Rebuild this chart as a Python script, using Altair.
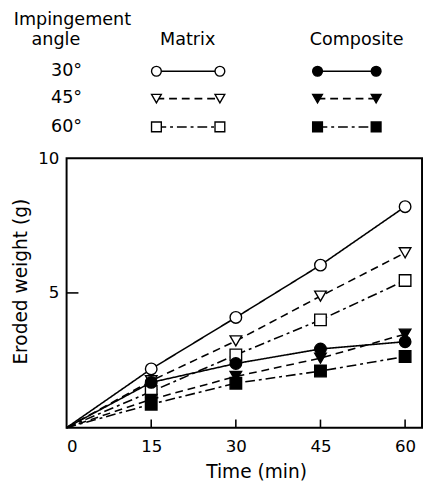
import altair as alt
import pandas as pd

# ---- data ----
times = [0, 15, 30, 45, 60]
angles = ["30°", "45°", "60°"]
materials = ["Matrix", "Composite"]
matrix_30 = [0, 2.18, 4.09, 6.03, 8.20]
matrix_45 = [0, 1.74, 3.22, 4.88, 6.49]
matrix_60 = [0, 1.34, 2.70, 4.00, 5.46]
comp_30 = [0, 1.68, 2.38, 2.92, 3.19]
comp_45 = [0, 1.05, 1.90, 2.58, 3.47]
comp_60 = [0, 0.87, 1.65, 2.10, 2.64]
x_ticks = [0, 15, 30, 45, 60]
y_ticks = [5, 10]

series = {
    ("Matrix", "30°"): matrix_30,
    ("Matrix", "45°"): matrix_45,
    ("Matrix", "60°"): matrix_60,
    ("Composite", "30°"): comp_30,
    ("Composite", "45°"): comp_45,
    ("Composite", "60°"): comp_60,
}
rows = []
for (mat, ang), vals in series.items():
    for t, v in zip(times, vals):
        rows.append({"time": t, "weight": v, "material": mat, "angle": ang,
                     "series": mat + ang})
df = pd.DataFrame(rows)

FONT = "DejaVu Sans"
dash_scale = alt.Scale(domain=angles, range=[[1, 0], [8, 5], [10, 4, 3, 4]])
shape_scale = alt.Scale(domain=angles, range=["circle", "triangle-down", "square"])
fill_scale = alt.Scale(domain=materials, range=["white", "black"])

W, H = 364, 276
xs = alt.Scale(domain=[0, 63], nice=False)
ys = alt.Scale(domain=[0, 10], nice=False)

lines = alt.Chart(df).mark_line(color="black", strokeWidth=1.6).encode(
    x=alt.X("time:Q", scale=xs,
            axis=alt.Axis(values=x_ticks, title="Time (min)", tickSize=0,
                          domain=False, grid=False, labelPadding=11,
                          titlePadding=9, titleX=194)),
    y=alt.Y("weight:Q", scale=ys,
            axis=alt.Axis(values=y_ticks, title="Eroded weight (g)", tickSize=0,
                          domain=False, grid=False, labelPadding=8,
                          titleX=-37, titleY=126)),
    strokeDash=alt.StrokeDash("angle:N", scale=dash_scale, legend=None),
    detail="series:N",
)

points = alt.Chart(df).transform_filter("datum.time > 0").mark_point(
    filled=True, stroke="black", strokeWidth=1.4, size=140, opacity=1
).encode(
    x=alt.X("time:Q", scale=xs),
    y=alt.Y("weight:Q", scale=ys),
    shape=alt.Shape("angle:N", scale=shape_scale, legend=None),
    fill=alt.Fill("material:N", scale=fill_scale, legend=None),
)

xtick_df = pd.DataFrame({"t": x_ticks[1:]})
xtick_rules = alt.Chart(xtick_df).mark_rule(color="black", strokeWidth=1.6).encode(
    x=alt.X("t:Q", scale=xs),
    y=alt.datum(0),
    y2=alt.datum(0.3),
)
ytick_df = pd.DataFrame({"v": y_ticks[:1]})
ytick_rules = alt.Chart(ytick_df).mark_rule(color="black", strokeWidth=1.6).encode(
    y=alt.Y("v:Q", scale=ys),
    x=alt.datum(0),
    x2=alt.datum(2.1),
)

main = alt.layer(lines, xtick_rules, ytick_rules, points).properties(
    width=W, height=H,
    view=alt.ViewBackground(stroke="black", strokeWidth=2),
)

# ---- legend block (layout constants, in px relative to plot's left edge) ----
LW, LH = 364, 140
col_x = {"Matrix": (92, 157), "Composite": (257, 317)}
row_y = {"30°": 62, "45°": 90, "60°": 119}
label_x = 0

leg_rows = []
for mat in materials:
    for ang in angles:
        for i, lx in enumerate(col_x[mat]):
            leg_rows.append({"lx": lx, "ly": row_y[ang], "material": mat,
                             "angle": ang, "series": mat + ang})
leg_df = pd.DataFrame(leg_rows)

lxs = alt.Scale(domain=[0, LW], nice=False)
lys = alt.Scale(domain=[0, LH], nice=False, reverse=True)

leg_lines = alt.Chart(leg_df).mark_line(color="black", strokeWidth=1.6).encode(
    x=alt.X("lx:Q", scale=lxs, axis=None),
    y=alt.Y("ly:Q", scale=lys, axis=None),
    strokeDash=alt.StrokeDash("angle:N", scale=dash_scale, legend=None),
    detail="series:N",
)
leg_points = alt.Chart(leg_df).mark_point(
    filled=True, stroke="black", strokeWidth=1.4, size=100, opacity=1
).encode(
    x=alt.X("lx:Q", scale=lxs),
    y=alt.Y("ly:Q", scale=lys),
    shape=alt.Shape("angle:N", scale=shape_scale, legend=None),
    fill=alt.Fill("material:N", scale=fill_scale, legend=None),
)

head_df = pd.DataFrame({
    "text": ["Impingement", "angle", "Matrix", "Composite"] + angles,
    "lx": [6, -11, 124, 297] + [label_x] * 3,
    "ly": [10, 30, 30, 30] + [row_y[a] for a in angles],
})
leg_text = alt.Chart(head_df).mark_text(
    font=FONT, fontSize=18, color="black", align="center", baseline="middle"
).encode(
    x=alt.X("lx:Q", scale=lxs),
    y=alt.Y("ly:Q", scale=lys),
    text="text:N",
)

legend = alt.layer(leg_lines, leg_points, leg_text).properties(
    width=LW, height=LH,
    view=alt.ViewBackground(stroke=None),
)

chart = alt.vconcat(legend, main, spacing=11, bounds="flush").properties(
    padding={"left": 2, "top": -3, "right": 0, "bottom": 0},
    background="white",
).configure_axis(
    labelFont=FONT, titleFont=FONT, labelFontSize=17, titleFontSize=19,
    labelColor="black", titleColor="black", titleFontWeight="normal",
)

chart.save("out.html", embed_options={"renderer": "svg", "actions": False})
